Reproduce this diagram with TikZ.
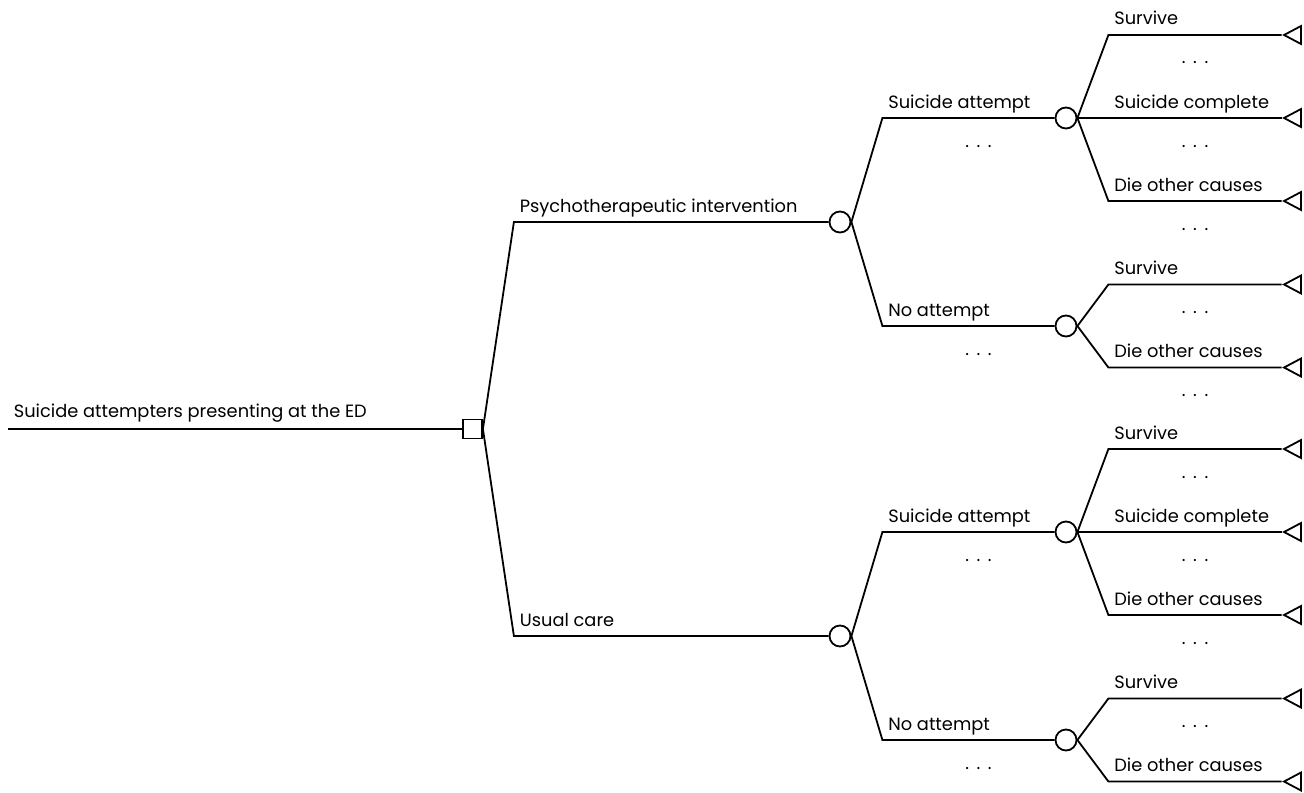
\documentclass[tikz,border=0pt]{standalone}
\usepackage{fontspec}
\setmainfont{Poppins}
\usetikzlibrary{shapes.geometric,calc}

\tikzset{
  decision/.style={draw, rectangle, minimum size=9.5pt, inner sep=0pt},
  chance/.style={draw, circle, minimum size=10.5pt, inner sep=0pt},
  outcome/.style={draw, isosceles triangle, isosceles triangle stretches,
    shape border rotate=180, minimum width=9pt, minimum height=8.5pt, inner sep=0pt},
  lab/.style={anchor=base west, pos=0, xshift=2.5pt, yshift=5pt, inner sep=0pt},
  more/.style={anchor=base, pos=0.5, yshift=-14.5pt, inner sep=0pt}
}
\newcommand{\etc}{.\kern3.8pt.\kern3.8pt.}

\begin{document}
\begin{tikzpicture}[x=0.5pt, y=0.5pt, line width=0.9pt,
font=\fontsize{8.9}{10.5}\selectfont, grow'=right,
level 1/.style={level distance=183.75pt, sibling distance=207pt},
level 2/.style={level distance=113pt, sibling distance=104pt},
level 3/.style={level distance=114.8pt, sibling distance=41.5pt},
edge from parent path={(\tikzparentnode.east) -- ($(\tikzparentnode.east |- \tikzchildnode)+(15.5pt,0)$) -- (\tikzchildnode)}]
\useasboundingbox (0,0) rectangle (1304,-792);
\coordinate (start) at (8,-429);
\node[decision] (dec) at (472.5,-429) {}
	child {node[chance] (pt) {}
		child {node[chance] (pt-a) {}
			child {node[outcome] (pt-a-s) {} edge from parent node[lab] {Survive} node[more] {\etc}}
			child {node[outcome] (pt-a-c) {} edge from parent node[lab] {Suicide complete} node[more] {\etc}}
			child {node[outcome] (pt-a-d) {} edge from parent node[lab] {Die other causes} node[more] {\etc}}
			edge from parent node[lab] {Suicide attempt} node[more, xshift=5pt] {\etc}
		}
		child {node[chance] (pt-n) {}
			child {node[outcome] (pt-n-s) {} edge from parent node[lab] {Survive} node[more] {\etc}}
			child {node[outcome] (pt-n-d) {} edge from parent node[lab] {Die other causes} node[more] {\etc}}
			edge from parent node[lab] {No attempt} node[more, xshift=5pt] {\etc}
		}
		edge from parent node[lab] {Psychotherapeutic intervention}
	}
	child {node[chance] (uc) {}
		child {node[chance] (uc-a) {}
			child {node[outcome] (uc-a-s) {} edge from parent node[lab] {Survive} node[more] {\etc}}
			child {node[outcome] (uc-a-c) {} edge from parent node[lab] {Suicide complete} node[more] {\etc}}
			child {node[outcome] (uc-a-d) {} edge from parent node[lab] {Die other causes} node[more] {\etc}}
			edge from parent node[lab] {Suicide attempt} node[more, xshift=5pt] {\etc}
		}
		child {node[chance] (uc-n) {}
			child {node[outcome] (uc-n-s) {} edge from parent node[lab] {Survive} node[more] {\etc}}
			child {node[outcome] (uc-n-d) {} edge from parent node[lab] {Die other causes}}
			edge from parent node[lab] {No attempt} node[more, xshift=5pt] {\etc}
		}
		edge from parent node[lab] {Usual care}
	};
\draw (start) -- (dec) node[lab, yshift=1pt] {Suicide attempters presenting at the ED};
\end{tikzpicture}
\end{document}
